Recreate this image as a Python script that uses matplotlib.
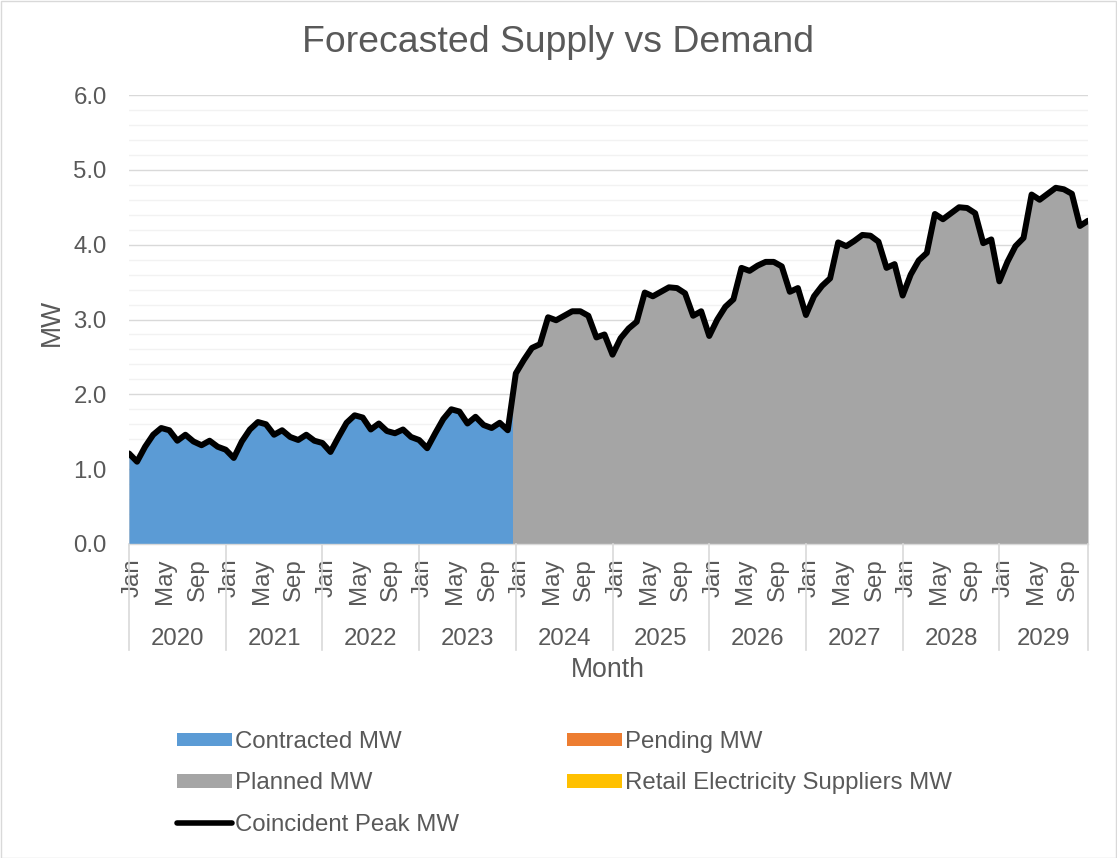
import matplotlib
matplotlib.use("Agg")
import matplotlib.pyplot as plt
import matplotlib.transforms as mtransforms
from matplotlib.patches import Patch, Rectangle
from matplotlib.lines import Line2D
import numpy as np

plt.rcParams['font.family'] = ['Liberation Sans', 'DejaVu Sans']

TEXT_COLOR = '#595959'
GRID_MAJOR = '#d9d9d9'
GRID_MINOR = '#f2f2f2'
BLUE = '#5b9bd5'
ORANGE = '#ed7d31'
GRAY = '#a5a5a5'
YELLOW = '#ffc000'

years = ['2020', '2021', '2022', '2023', '2024', '2025', '2026', '2027', '2028', '2029']
month_labels = ['Jan', 'May', 'Sep']
month_label_pos = [0, 4, 8]

# contracted MW, Jan 2020 - Dec 2023
contracted_mw = [
    1.21, 1.10, 1.30, 1.46, 1.55, 1.52, 1.38, 1.46, 1.37, 1.32, 1.38, 1.30,
    1.26, 1.15, 1.37, 1.53, 1.63, 1.60, 1.46, 1.52, 1.43, 1.39, 1.46, 1.38,
    1.35, 1.23, 1.43, 1.62, 1.72, 1.69, 1.53, 1.61, 1.51, 1.48, 1.53, 1.43,
    1.39, 1.28, 1.48, 1.67, 1.80, 1.77, 1.61, 1.70, 1.59, 1.55, 1.62, 1.52,
]
# planned MW, Jan 2024 - Dec 2029
planned_mw = [
    2.28, 2.46, 2.62, 2.67, 3.03, 2.99, 3.05, 3.11, 3.11, 3.05, 2.76, 2.80,
    2.53, 2.75, 2.88, 2.97, 3.36, 3.31, 3.37, 3.43, 3.42, 3.35, 3.05, 3.11,
    2.78, 3.00, 3.17, 3.27, 3.69, 3.65, 3.72, 3.77, 3.77, 3.71, 3.37, 3.42,
    3.06, 3.31, 3.45, 3.55, 4.03, 3.98, 4.05, 4.13, 4.12, 4.04, 3.69, 3.74,
    3.32, 3.60, 3.79, 3.89, 4.41, 4.34, 4.42, 4.50, 4.49, 4.42, 4.02, 4.07,
    3.51, 3.77, 3.98, 4.09, 4.67, 4.60, 4.68, 4.76, 4.74, 4.68, 4.25, 4.32,
]
peak_mw = contracted_mw + planned_mw

W, H = 1117, 858
fig = plt.figure(figsize=(W / 100, H / 100), dpi=100)
ax = fig.add_axes([129 / W, 1 - 544 / H, (1088 - 129) / W, (544 - 95) / H])

x = np.arange(len(peak_mw))
n_contracted = len(contracted_mw)

ax.fill_between(x, 0, peak_mw, color=GRAY, lw=0, zorder=2)
blue = ax.fill_between(x, 0, peak_mw, color=BLUE, lw=0, zorder=2.1)
blue.set_clip_path(Rectangle((0, 0), n_contracted - 0.5, 10, transform=ax.transData))
ax.plot(x, peak_mw, color='black', lw=4.3, solid_joinstyle='round',
        solid_capstyle='round', zorder=3)

ax.set_xlim(0, len(peak_mw) - 1)
ax.set_ylim(0, 6)
ax.set_yticks(np.arange(0, 6.01, 1.0))
ax.set_yticks(np.arange(0, 6.01, 0.2), minor=True)
ax.set_yticklabels([f"{v:.1f}" for v in np.arange(0, 6.01, 1.0)])
ax.grid(True, which='major', axis='y', color=GRID_MAJOR, lw=1.0, zorder=0)
ax.grid(True, which='minor', axis='y', color=GRID_MINOR, lw=1.0, zorder=0)
ax.set_axisbelow(True)
ax.tick_params(axis='y', which='both', length=0, pad=16, labelsize=17.3, labelcolor=TEXT_COLOR)

for s in ['top', 'right', 'left']:
    ax.spines[s].set_visible(False)
ax.spines['bottom'].set_color(GRID_MAJOR)
ax.spines['bottom'].set_linewidth(1.0)

# month ticks
tick_pos, tick_lab = [], []
for k in range(len(years)):
    for p, m in zip(month_label_pos, month_labels):
        tick_pos.append(12 * k + p)
        tick_lab.append(m)
ax.set_xticks(tick_pos)
ax.set_xticklabels(tick_lab, rotation=90, va='top', ha='center')
ax.tick_params(axis='x', length=0, pad=10.5, labelsize=17.3, labelcolor=TEXT_COLOR)
off = mtransforms.ScaledTranslation(4 / 100, 0, fig.dpi_scale_trans)
for lab in ax.get_xticklabels():
    lab.set_transform(lab.get_transform() + off)

# year dividers and labels
trans = mtransforms.blended_transform_factory(ax.transData, ax.transAxes)
bounds = [12 * k for k in range(len(years))] + [len(peak_mw) - 1]
for b in bounds:
    ax.plot([b, b], [0, -106 / 449], color=GRID_MAJOR, lw=1.2, transform=trans, clip_on=False)
for k, yr in enumerate(years):
    ax.text((bounds[k] + bounds[k + 1]) / 2, -95 / 449, yr, transform=trans,
            ha='center', va='center', fontsize=17.3, color=TEXT_COLOR)

fig.text(608 / W, 1 - 670 / H, 'Month', ha='center', va='center', fontsize=19.2, color=TEXT_COLOR)
fig.text(52 / W, 1 - 322 / H, 'MW', ha='center', va='center', rotation=90, fontsize=19.2, color=TEXT_COLOR)
fig.text(0.5, 1 - 42 / H, 'Forecasted Supply vs Demand', ha='center', va='center',
         fontsize=26.9, color=TEXT_COLOR)

# legend, two columns placed separately
col1 = [Patch(facecolor=BLUE, label='Contracted MW'),
        Patch(facecolor=GRAY, label='Planned MW'),
        Line2D([0], [0], color='black', lw=4, solid_capstyle='round', label='Coincident Peak MW')]
col2 = [Patch(facecolor=ORANGE, label='Pending MW'),
        Patch(facecolor=YELLOW, label='Retail Electricity Suppliers MW')]
leg_kw = dict(loc='upper left', frameon=False, fontsize=17.3, labelcolor=TEXT_COLOR,
              handlelength=2.3, handleheight=0.5, handletextpad=0.12, labelspacing=0.81,
              borderpad=0, borderaxespad=0)
fig.legend(handles=col1, bbox_to_anchor=(177 / W, 1 - 731 / H), **leg_kw)
fig.legend(handles=col2, bbox_to_anchor=(567 / W, 1 - 731 / H), **leg_kw)

# chart border
fig.patches.append(Rectangle((0.5 / W, 0.5 / H), 1 - 1.5 / W, 1 - 1.5 / H, transform=fig.transFigure,
                             fill=False, edgecolor=GRID_MAJOR, lw=1.0))

fig.savefig('out.png', dpi=100)
